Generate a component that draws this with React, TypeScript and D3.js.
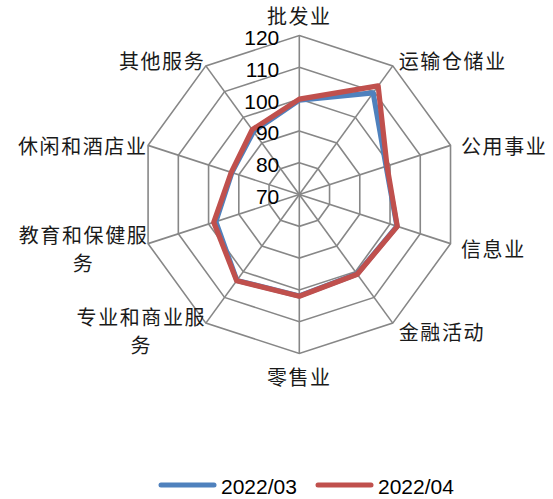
import React from "react";
import * as d3 from "d3";

const categories = [
  "批发业",
  "运输仓储业",
  "公用事业",
  "信息业",
  "金融活动",
  "零售业",
  "专业和商业服务",
  "教育和保健服务",
  "休闲和酒店业",
  "其他服务",
];

const series03 = [99.7, 109.5, 98.7, 102.3, 100.9, 101.9, 103.4, 97.6, 92.3, 94.5];
const series04 = [100, 112.2, 99, 102.4, 101, 102, 103.5, 98.3, 92.5, 95.2];

const seriesNames = ["2022/03", "2022/04"];
const seriesColors = ["#4F81BD", "#C0504D"];

const ticks = [70, 80, 90, 100, 110, 120];

// Category labels are wrapped into lines the way the chart shows them
const labelLines: string[][] = [
  ["批发业"],
  ["运输仓储业"],
  ["公用事业"],
  ["信息业"],
  ["金融活动"],
  ["零售业"],
  ["专业和商业服", "务"],
  ["教育和保健服", "务"],
  ["休闲和酒店业"],
  ["其他服务"],
];

const W = 553;
const H = 499;
const cx = 299.3;
const cy = 194.5;
const R = 159;

const cjkFont = "'Noto Sans CJK SC', 'Noto Sans', sans-serif";
const numFont = "'Liberation Sans Narrow', 'Liberation Sans', Arial, sans-serif";
const charW = 21.6;

export default function App() {
  const r = d3.scaleLinear().domain([70, 120]).range([0, R]);
  const n = categories.length;
  const angle = (i: number) => (i * 2 * Math.PI) / n;
  const pt = (i: number, v: number): [number, number] => {
    const a = angle(i);
    return [cx + r(v) * Math.sin(a), cy - r(v) * Math.cos(a)];
  };

  const closed = d3.line<[number, number]>().curve(d3.curveLinearClosed);

  const rings = ticks.slice(1).map((t) =>
    closed(categories.map((_, i) => pt(i, t)))
  );

  const seriesPaths = [series03, series04].map((s) =>
    closed(s.map((v, i) => pt(i, v)))
  );

  // label anchor position relative to the outer vertex of each spoke
  const labelPlacement = (i: number) => {
    const [vx, vy] = pt(i, 120);
    const a = angle(i);
    const sx = Math.sin(a);
    const sy = -Math.cos(a);
    let anchor: "start" | "middle" | "end" = "middle";
    let x = vx;
    let y = vy;
    if (Math.abs(sx) < 0.01) {
      anchor = "middle";
      y = sy < 0 ? vy - 20 : vy + 23;
    } else if (sx > 0) {
      anchor = "start";
      if (Math.abs(sy) < 0.5) {
        x = vx + 10.5;
        y = vy + (sy < 0 ? 0.6 : 4.5);
      } else {
        x = vx + 6;
        y = vy + (sy < 0 ? -5 : 8);
      }
    } else {
      anchor = "end";
      x = vx - 0.5;
      y = vy + (sy < -0.5 ? -5 : sy < 0 ? 0.6 : sy < 0.5 ? -9.6 : -7);
    }
    return { x, y, anchor };
  };

  return (
    <svg width={W} height={H} style={{ display: "block", position: "absolute", left: 0, top: 0 }}>
      <rect width={W} height={H} fill="#ffffff" />
      <g fill="none" stroke="#878787" strokeWidth={1.6}>
        {rings.map((d, k) => (
          <path key={k} d={d ?? ""} />
        ))}
        {categories.map((_, i) => {
          const [x, y] = pt(i, 120);
          return <line key={i} x1={cx} y1={cy} x2={x} y2={y} />;
        })}
      </g>

      {seriesPaths.map((d, k) => (
        <path
          key={k}
          d={d ?? ""}
          fill="none"
          stroke={seriesColors[k]}
          strokeWidth={5.2}
          strokeLinejoin="round"
        />
      ))}

      <g fontFamily={numFont} fontSize={21} fill="#000" textAnchor="end">
        {ticks.map((t) => (
          <text key={t} x={cx - 20} y={cy - r(t) + 2} dominantBaseline="central">
            {t}
          </text>
        ))}
      </g>

      <g fontFamily={cjkFont} fontSize={20} fill="#1a1a1a" letterSpacing={1.6}>
        {categories.map((c, i) => {
          const { x, y, anchor } = labelPlacement(i);
          const lines = labelLines[i];
          if (lines.length === 1) {
            return (
              <text key={c} x={x} y={y} textAnchor={anchor} dominantBaseline="central">
                {lines[0]}
              </text>
            );
          }
          // wrapped label: lines centred on a common axis, right edge at the vertex
          const w = lines[0].length * charW;
          const mid = x - w / 2 + 0.8;
          return (
            <text key={c} textAnchor="middle" dominantBaseline="central">
              {lines.map((ln, j) => (
                <tspan key={j} x={mid} y={y + j * 28}>
                  {ln}
                </tspan>
              ))}
            </text>
          );
        })}
      </g>

      <g>
        {seriesNames.map((name, k) => {
          const x0 = k === 0 ? 161 : 318;
          return (
            <g key={name}>
              <line
                x1={x0}
                x2={x0 + 53}
                y1={485}
                y2={485}
                stroke={seriesColors[k]}
                strokeWidth={5}
                strokeLinecap="round"
              />
              <text
                x={x0 + 60}
                y={486}
                fontFamily={numFont}
                fontSize={21}
                dominantBaseline="central"
                fill="#000"
              >
                {name}
              </text>
            </g>
          );
        })}
      </g>
    </svg>
  );
}
